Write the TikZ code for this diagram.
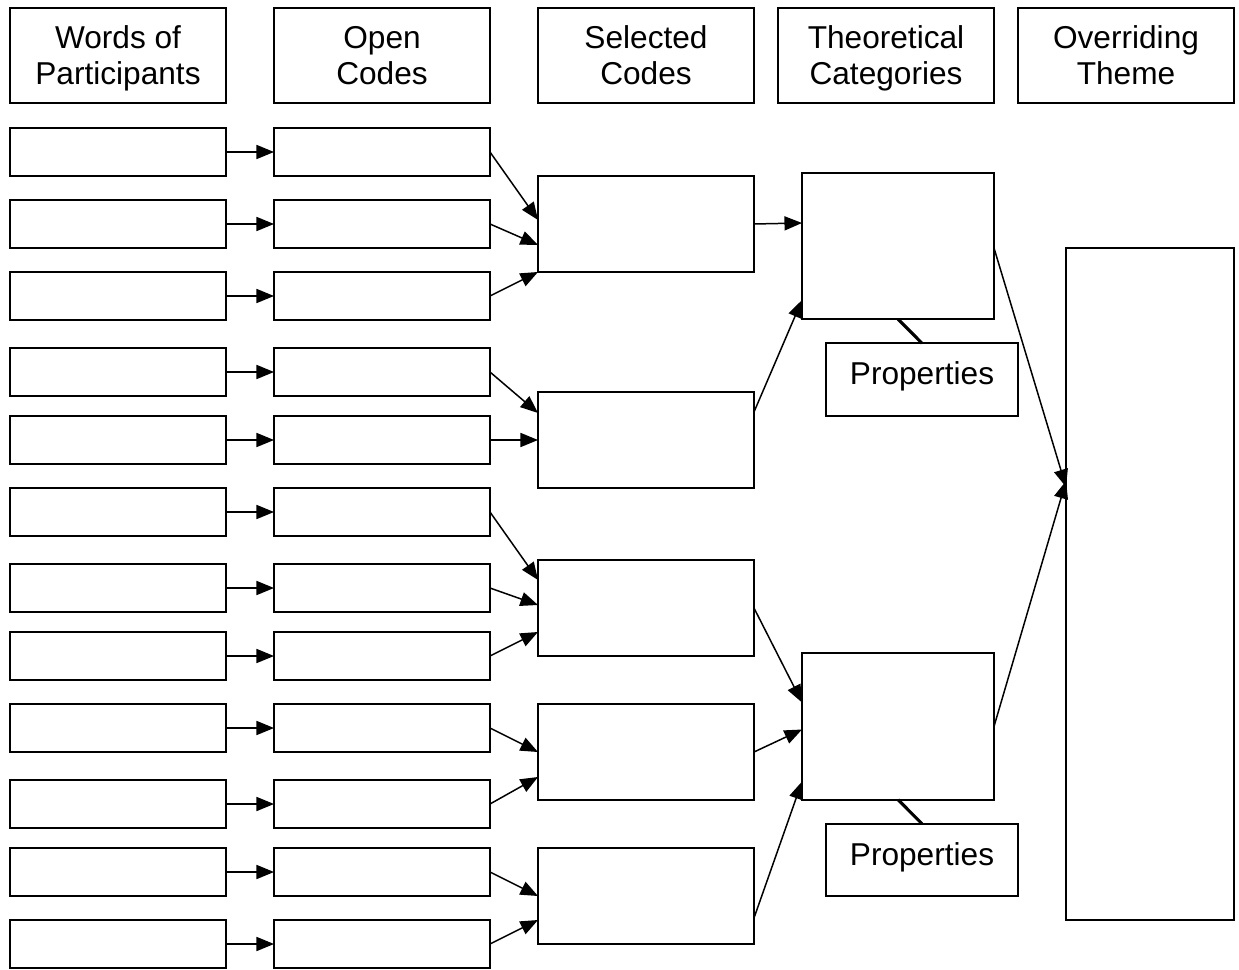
\documentclass[tikz,border=0pt]{standalone}
\usepackage{fontspec}
\setmainfont{Liberation Sans}
\usetikzlibrary{arrows.meta,calc}

\begin{document}
\begin{tikzpicture}[
    x=0.02cm, y=-0.02cm,
    >={Triangle[length=10pt,width=8pt]},
    every node/.style={font=\fontsize{18}{20.5}\selectfont, align=center, inner sep=0pt, outer sep=0pt},
    hdr/.style={draw, line width=1.1pt, minimum width=4.32cm, minimum height=1.9cm, text depth=0pt},
    cell/.style={draw, line width=1.1pt, minimum width=4.32cm, minimum height=0.96cm},
    sel/.style={draw, line width=1.1pt, minimum width=4.32cm, minimum height=1.92cm},
    cat/.style={draw, line width=1.1pt, minimum width=3.84cm, minimum height=2.93cm},
    prop/.style={draw, line width=1.1pt, minimum width=3.84cm, minimum height=1.45cm, text depth=7pt},
    link/.style={->, line width=0.85pt}
]
\useasboundingbox (0,0) rectangle (1239,969);

% column headings
\node[hdr] (hwords) at (118,55.5) {Words of\\Participants};
\node[hdr] (hopen) at (382,55.5) {Open\\Codes};
\node[hdr] (hsel) at (646,55.5) {Selected\\Codes};
\node[hdr] (hcat) at (886,55.5) {Theoretical\\Categories};
\node[hdr] (htheme) at (1126,55.5) {Overriding\\Theme};

% words and open codes
\foreach \i/\y in {1/152,2/224,3/296,4/372,5/440,6/512,7/588,8/656,9/728,10/804,11/872,12/944} {
  \node[cell] (w\i) at (118,\y) {};
  \node[cell] (o\i) at (382,\y) {};
  \draw[link] (w\i) -- (o\i);
}

% selected codes
\node[sel] (s1) at (646,224) {};
\node[sel] (s2) at (646,440) {};
\node[sel] (s3) at (646,608) {};
\node[sel] (s4) at (646,752) {};
\node[sel] (s5) at (646,896) {};

% categories, properties, theme
\node[cat] (t1) at (898,246) {};
\node[cat] (t2) at (898,726.5) {};
\node[prop] (p1) at (922,379.5) {Properties};
\node[prop] (p2) at (922,860) {Properties};
\node[draw, line width=1.1pt, minimum width=3.36cm, minimum height=13.44cm] (theme) at (1150,584) {};

% open codes to selected codes
\draw[link] (o1.east) -- ($(s1.west)+(0,-4)$);
\draw[link] (o2.east) -- ($(s1.west)+(0,21)$);
\draw[link] (o3.east) -- (s1.south west);
\draw[link] (o4.east) -- ($(s2.west)+(0,-27)$);
\draw[link] (o5.east) -- (s2.west);
\draw[link] (o6.east) -- ($(s3.west)+(0,-28)$);
\draw[link] (o7.east) -- ($(s3.west)+(0,-3)$);
\draw[link] (o8.east) -- ($(s3.west)+(0,24)$);
\draw[link] (o9.east) -- (s4.west);
\draw[link] (o10.east) -- ($(s4.west)+(0,25)$);
\draw[link] (o11.east) -- (s5.west);
\draw[link] (o12.east) -- ($(s5.west)+(0,24)$);

% selected codes to categories
\draw[link] (s1.east) -- ($(t1.west)+(0,-23)$);
\draw[link] ($(s2.east)+(0,-28)$) -- ($(t1.west)+(0,54)$);
\draw[link] (s3.east) -- ($(t2.west)+(0,-24)$);
\draw[link] (s4.east) -- ($(t2.west)+(0,3)$);
\draw[link] ($(s5.east)+(0,22)$) -- ($(t2.west)+(0,55)$);

% categories to theme
\draw[link] ($(t1.east)+(0,2)$) -- ($(theme.west)+(0,-97)$);
\draw[link] (t2.east) -- ($(theme.west)+(0,-103)$);

% properties
\draw[line width=1.8pt] (t1.south) -- (p1.north);
\draw[line width=1.8pt] (t2.south) -- (p2.north);
\end{tikzpicture}
\end{document}
